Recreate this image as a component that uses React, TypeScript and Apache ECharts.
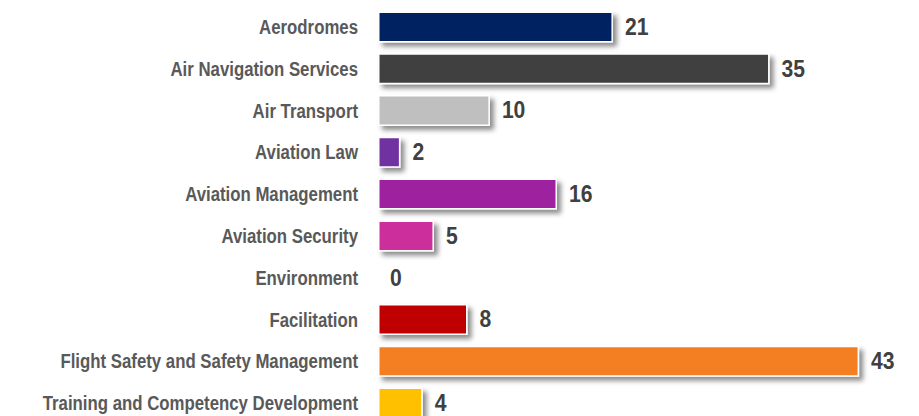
import React, { useEffect, useRef } from "react";
import * as echarts from "echarts";

const categories = [
  "Aerodromes",
  "Air Navigation Services",
  "Air Transport",
  "Aviation Law",
  "Aviation Management",
  "Aviation Security",
  "Environment",
  "Facilitation",
  "Flight Safety and Safety Management",
  "Training and Competency Development",
];
const values = [21, 35, 10, 2, 16, 5, 0, 8, 43, 4];
const colors = [
  "#002060",
  "#404040",
  "#BFBFBF",
  "#7030A0",
  "#9E229F",
  "#CC2F9C",
  "#888888",
  "#C00000",
  "#F47F22",
  "#FFC000",
];

const FONT = "'Liberation Sans Narrow', 'Arial Narrow', 'Liberation Sans', Arial, sans-serif";

export default function App() {
  const ref = useRef<HTMLDivElement>(null);
  useEffect(() => {
    if (!ref.current) return;
    const chart = echarts.init(ref.current, undefined, { renderer: "svg" });
    chart.setOption({
      animation: false,
      grid: { left: 378, right: 4, top: 6, bottom: 0, containLabel: false },
      xAxis: {
        type: "value",
        min: 0,
        max: 48,
        show: false,
        splitLine: { show: false },
      },
      yAxis: {
        type: "category",
        data: categories,
        inverse: true,
        axisLine: { show: false },
        axisTick: { show: false },
        axisLabel: { show: false },
      },
      series: [
        {
          type: "bar",
          barWidth: 31,
          data: values.map((v, i) => ({
            value: v,
            itemStyle: { color: colors[i] },
          })),
          itemStyle: {
            borderColor: "#ffffff",
            borderWidth: 1.5,
            shadowColor: "rgba(0,0,0,0.45)",
            shadowBlur: 5,
            shadowOffsetX: 4,
            shadowOffsetY: 4,
          },
          label: { show: false },
        },
      ],
    });

    // Condensed-looking labels positioned via the chart's own scales
    const graphics: any[] = [];
    categories.forEach((cat, i) => {
      const [x0, y] = chart.convertToPixel({ xAxisIndex: 0, yAxisIndex: 0 }, [0, cat]) as number[];
      const [xv] = chart.convertToPixel({ xAxisIndex: 0, yAxisIndex: 0 }, [values[i], cat]) as number[];
      graphics.push({
        type: "text",
        x: x0 - 20,
        y: y,
        scaleX: 0.8,
        style: {
          text: cat,
          fill: "#595959",
          font: `bold 21px ${FONT}`,
          align: "right",
          verticalAlign: "middle",
        },
      });
      graphics.push({
        type: "text",
        x: xv + 12,
        y: y,
        scaleX: 0.88,
        style: {
          text: String(values[i]),
          fill: "#404040",
          font: `bold 24px ${FONT}`,
          align: "left",
          verticalAlign: "middle",
        },
      });
    });
    chart.setOption({ graphic: graphics });

    return () => chart.dispose();
  }, []);
  return (
    <div
      ref={ref}
      style={{ position: "fixed", left: 0, top: 0, width: 919, height: 424, background: "#ffffff" }}
    />
  );
}
